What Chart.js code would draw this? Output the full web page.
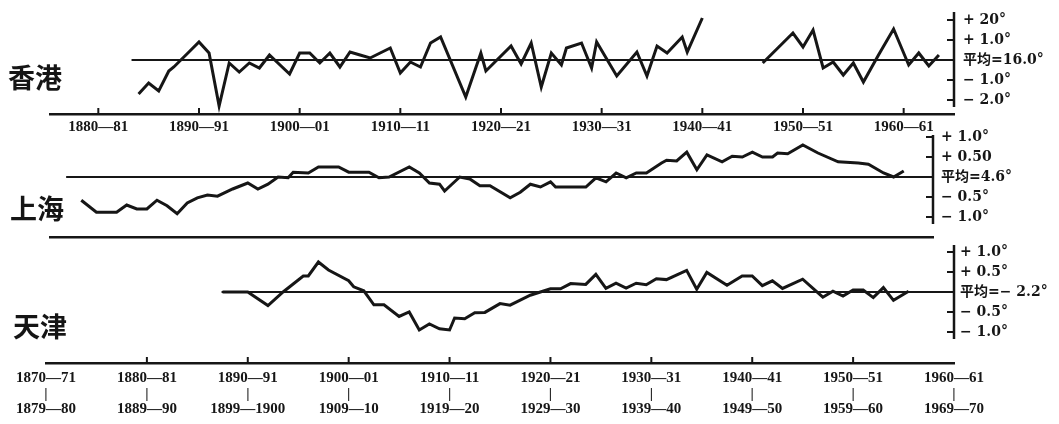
<!DOCTYPE html>
<html>
<head>
<meta charset="utf-8">
<script src="https://cdn.jsdelivr.net/npm/chart.js@4/dist/chart.umd.min.js"></script>
<style>
  body { margin: 0; background: #fff; width: 1059px; height: 424px; position: relative; overflow: hidden; }
  .box { position: absolute; left: 0; width: 1059px; }
  .name { position: absolute; font: bold 27px "Noto Sans CJK SC", sans-serif; color: #151515; line-height: 1; }
</style>
</head>
<body>
<div class="box" style="top:0;height:140px"><canvas id="hk"></canvas></div>
<div class="box" style="top:128px;height:112px"><canvas id="sh"></canvas></div>
<div class="box" style="top:240px;height:184px"><canvas id="tj"></canvas></div>
<div class="name" style="left:8px;top:63px">香港</div>
<div class="name" style="left:10px;top:194px">上海</div>
<div class="name" style="left:13px;top:312px">天津</div>
<script>
// 香港 (deviation from mean, °C)
const hkYears = [1884, 1885, 1886, 1887, 1887.5, 1889, 1890, 1891, 1892, 1893, 1894, 1895, 1896, 1897, 1899,
  1900, 1901, 1902, 1903, 1904, 1905, 1906, 1907, 1909, 1910, 1911, 1912, 1913, 1914, 1916.5, 1918, 1918.5,
  1921, 1922, 1923, 1924, 1925, 1926, 1926.5, 1928, 1929, 1929.5, 1931.5, 1933.5, 1934.5, 1935.5, 1936.5,
  1938, 1938.5, 1940, 1943, 1946, 1949, 1950, 1951, 1952, 1953, 1954, 1955, 1956, 1957.5, 1959, 1960.5,
  1961.5, 1962.5, 1963.5];
const hkValues = [-1.7, -1.15, -1.55, -0.55, -0.35, 0.4, 0.9, 0.35, -2.3, -0.15, -0.6, -0.15, -0.4, 0.25, -0.7,
  0.35, 0.35, -0.15, 0.35, -0.35, 0.4, 0.25, 0.1, 0.6, -0.65, -0.1, -0.35, 0.85, 1.15, -1.85, 0.35, -0.55,
  0.7, -0.2, 0.85, -1.35, 0.35, -0.25, 0.6, 0.85, -0.4, 0.9, -0.8, 0.4, -0.8, 0.7, 0.35,
  1.15, 0.4, 2.1, null, -0.15, 1.35, 0.65, 1.5, -0.4, -0.1, -0.75, -0.15, -1.1, 0.25, 1.55, -0.25,
  0.35, -0.3, 0.25];
const hkMean = [1883.3, 1965];

// 上海
const shYears = [1873.5, 1875, 1877, 1878, 1879, 1880, 1881, 1882, 1883, 1884, 1885, 1886, 1887, 1888.5,
  1890, 1891, 1892, 1893, 1894, 1894.5, 1896, 1897, 1899, 1900, 1901, 1902, 1903, 1904, 1906, 1907, 1908,
  1909, 1909.5, 1911, 1912, 1913, 1914, 1916, 1917, 1918, 1919, 1920, 1920.5, 1923.5, 1924.5, 1925.5,
  1926.5, 1927.5, 1928.5, 1929.5, 1931, 1931.5, 1932.5, 1933.5, 1934.5, 1935.5, 1937, 1938, 1939, 1940,
  1941, 1942, 1942.5, 1943.5, 1945, 1946.5, 1948.5, 1950.5, 1951.5, 1953, 1954, 1955];
const shValues = [-0.58, -0.88, -0.88, -0.7, -0.8, -0.8, -0.58, -0.72, -0.92, -0.65, -0.52, -0.45, -0.48, -0.3,
  -0.15, -0.3, -0.18, 0, -0.02, 0.12, 0.1, 0.25, 0.25, 0.12, 0.12, 0.12, -0.02, 0, 0.25, 0.1, -0.15,
  -0.18, -0.35, 0, -0.05, -0.22, -0.22, -0.52, -0.38, -0.18, -0.25, -0.12, -0.25, -0.25, -0.02, -0.12,
  0.1, -0.02, 0.1, 0.1, 0.35, 0.42, 0.4, 0.62, 0.18, 0.55, 0.38, 0.52, 0.5, 0.62,
  0.5, 0.5, 0.6, 0.58, 0.8, 0.6, 0.38, 0.35, 0.32, 0.1, 0, 0.15];
const shMean = [1872, 1958];

// 天津
const tjYears = [1887.5, 1890, 1892, 1893.5, 1895.5, 1896, 1897, 1898, 1900, 1900.5, 1901.5, 1902.5, 1903.5,
  1905, 1906, 1907, 1908, 1909, 1910, 1910.5, 1911.5, 1912.5, 1913.5, 1915, 1916, 1918, 1920, 1921, 1922,
  1923.5, 1924.5, 1925.5, 1926.5, 1927.5, 1928.5, 1929.5, 1930.5, 1931.5, 1933.5, 1934.5, 1935.5, 1937.5,
  1939, 1940, 1941, 1942, 1943, 1945, 1947, 1948, 1949, 1950, 1951, 1952, 1953, 1954, 1955.5];
const tjValues = [0, 0, -0.34, 0, 0.4, 0.4, 0.75, 0.55, 0.28, 0.13, 0.03, -0.32, -0.32,
  -0.61, -0.5, -0.95, -0.8, -0.92, -0.95, -0.65, -0.67, -0.52, -0.51, -0.29, -0.33, -0.08, 0.08, 0.08, 0.21,
  0.19, 0.44, 0.09, 0.22, 0.1, 0.22, 0.18, 0.33, 0.31, 0.54, 0.07, 0.49, 0.17,
  0.4, 0.4, 0.16, 0.28, 0.09, 0.32, -0.13, 0.02, -0.1, 0.05, 0.05, -0.14, 0.11, -0.21, 0.02];
const tjMean = [1887.4, 1960];

// axes
const hkTickYears = [1880, 1890, 1900, 1910, 1920, 1930, 1940, 1950, 1960];
const hkTickLabels = ["1880—81", "1890—91", "1900—01", "1910—11", "1920—21", "1930—31", "1940—41", "1950—51", "1960—61"];
const bottomTickYears = [1870, 1880, 1890, 1900, 1910, 1920, 1930, 1940, 1950, 1960];
const bottomFrom = ["1870—71", "1880—81", "1890—91", "1900—01", "1910—11", "1920—21", "1930—31", "1940—41", "1950—51", "1960—61"];
const bottomTo = ["1879—80", "1889—90", "1899—1900", "1909—10", "1919—20", "1929—30", "1939—40", "1949—50", "1959—60", "1969—70"];

const hkYTicks = [2, 1, 0, -1, -2];
const hkYLabels = ["+ 20°", "+ 1.0°", "平均=16.0°", "− 1.0°", "− 2.0°"];
const shYTicks = [1, 0.5, 0, -0.5, -1];
const shYLabels = ["+ 1.0°", "+ 0.50", "平均=4.6°", "− 0.5°", "− 1.0°"];
const tjYTicks = [1, 0.5, 0, -0.5, -1];
const tjYLabels = ["+ 1.0°", "+ 0.5°", "平均=− 2.2°", "− 0.5°", "− 1.0°"];

const INK = "#161616";
const XFONT = '"Liberation Serif", serif';
const YFONT = '"DejaVu Serif", "Noto Sans CJK SC", serif';

// inward tick marks, and a right-hand axis that stops just below its last tick
const innerTicks = {
  id: "innerTicks",
  afterDraw(chart, args, opts) {
    const ctx = chart.ctx;
    const xs = chart.scales.x, ys = chart.scales.y;
    ctx.save();
    ctx.strokeStyle = INK;
    ctx.lineWidth = 2;
    if (opts.x) {
      xs.ticks.forEach((t) => {
        const px = xs.getPixelForValue(t.value);
        if (px < xs.left + 2 || px > xs.right - 2) return;
        ctx.beginPath();
        ctx.moveTo(px, xs.top);
        ctx.lineTo(px, xs.top - opts.x);
        ctx.stroke();
      });
    }
    let lowest = ys.top;
    ys.ticks.forEach((t) => {
      const py = ys.getPixelForValue(t.value);
      lowest = Math.max(lowest, py);
      ctx.beginPath();
      ctx.moveTo(ys.left, py);
      ctx.lineTo(ys.left - opts.y, py);
      ctx.stroke();
    });
    ctx.lineWidth = 2.5;
    ctx.beginPath();
    ctx.moveTo(ys.left, ys.top);
    ctx.lineTo(ys.left, lowest + 7);
    ctx.stroke();
    ctx.restore();
  },
};

function series(xs, ys) {
  return xs.map((x, i) => ({ x: x, y: ys[i] }));
}

// labels may spill past the plot; keep the plot box where it was asked to be
function noSpill(s) {
  s.paddingTop = 0;
  s.paddingBottom = 0;
  s.paddingLeft = 0;
  s.paddingRight = 0;
}

function buildPanel(id, p) {
  return new Chart(document.getElementById(id), {
    type: "line",
    data: {
      datasets: [
        {
          data: series(p.mean, [0, 0]),
          borderColor: INK,
          borderWidth: 2,
          pointRadius: 0,
        },
        {
          data: series(p.years, p.values),
          borderColor: INK,
          borderWidth: 3,
          borderJoinStyle: "miter",
          pointRadius: 0,
          tension: 0,
          spanGaps: false,
        },
      ],
    },
    options: {
      responsive: true,
      maintainAspectRatio: false,
      animation: false,
      layout: { padding: { left: p.left, top: p.top, right: 0, bottom: 0 } },
      plugins: {
        legend: { display: false },
        tooltip: { enabled: false },
        innerTicks: { x: p.xMark, y: 7 },
      },
      scales: {
        x: {
          type: "linear",
          min: p.xMin,
          max: p.xMax,
          afterFit: (s) => { s.height = p.xHeight; noSpill(s); },
          afterBuildTicks: (s) => { s.ticks = p.xTicks.map((v) => ({ value: v })); },
          grid: { display: false, drawTicks: false },
          border: { display: true, color: INK, width: 2.5 },
          ticks: {
            display: p.xLabels !== null,
            autoSkip: false,
            maxRotation: 0,
            padding: p.xPad,
            color: INK,
            font: { family: XFONT, size: 15, weight: "bold", lineHeight: 1.05 },
            callback: (v) => (p.xLabels ? p.xLabels(p.xTicks.indexOf(v)) : ""),
          },
        },
        y: {
          position: "right",
          min: p.yMin,
          max: p.yMax,
          afterFit: (s) => { s.width = p.yWidth; noSpill(s); },
          afterBuildTicks: (s) => { s.ticks = p.yTicks.map((v) => ({ value: v })); },
          grid: { display: false, drawTicks: false },
          border: { display: false },
          ticks: {
            padding: p.yPad,
            color: INK,
            font: { family: YFONT, size: 14, weight: "bold" },
            callback: (v) => p.yLabels[p.yTicks.indexOf(v)],
          },
        },
      },
    },
    plugins: [innerTicks],
  });
}

buildPanel("hk", {
  years: hkYears, values: hkValues, mean: hkMean,
  left: 50, top: 12, xHeight: 26, yWidth: 105,
  xMin: 1875.2, xMax: 1965, yMin: -2.7, yMax: 2.4,
  xTicks: hkTickYears, xLabels: (i) => hkTickLabels[i], xPad: 5, xMark: 6,
  yTicks: hkYTicks, yLabels: hkYLabels, yPad: 9,
});

buildPanel("sh", {
  years: shYears, values: shValues, mean: shMean,
  left: 50, top: 7, xHeight: 3, yWidth: 126,
  xMin: 1870.4, xMax: 1957.9, yMin: -1.5, yMax: 1.05,
  xTicks: bottomTickYears, xLabels: null, xPad: 0, xMark: 0,
  yTicks: shYTicks, yLabels: shYLabels, yPad: 8,
});

buildPanel("tj", {
  years: tjYears, values: tjValues, mean: tjMean,
  left: 46, top: 5, xHeight: 61, yWidth: 105,
  xMin: 1870, xMax: 1960, yMin: -1.775, yMax: 1.175,
  xTicks: bottomTickYears, xLabels: (i) => [bottomFrom[i], "|", bottomTo[i]], xPad: 7, xMark: 6,
  yTicks: tjYTicks, yLabels: tjYLabels, yPad: 6,
});
</script>
</body>
</html>
